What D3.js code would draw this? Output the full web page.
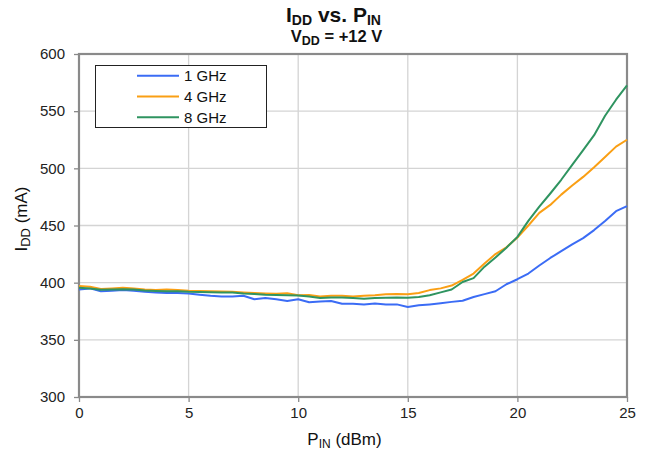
<!DOCTYPE html>
<html><head><meta charset="utf-8">
<script src="https://cdn.jsdelivr.net/npm/d3@7"></script>
<style>body{margin:0;background:#fff}svg{display:block}text{font-family:"Liberation Sans",Arial,sans-serif}</style>
</head><body>
<svg id="c" width="647" height="451"></svg>
<script>
const pin = [0,0.5,1,1.5,2,2.5,3,3.5,4,4.5,5,5.5,6,6.5,7,7.5,8,8.5,9,9.5,10,10.5,11,11.5,12,12.5,13,13.5,14,14.5,15,15.5,16,16.5,17,17.5,18,18.5,19,19.5,20,20.5,21,21.5,22,22.5,23,23.5,24,24.5,25];
const idd1 = [394,395,392.5,393,393.5,393,392,391.5,391,391,390.5,389.5,388.5,388,388,388.5,385.5,386.5,385.5,384,385.5,382.8,383.5,384,381.5,381.5,381,381.7,381,381,378.7,380.2,381,382,383.2,384.2,387.5,390,392.5,398.6,403,408,415,421.6,427.5,433.5,439,446,454,462.5,467];
const idd4 = [397,396.5,394.5,395,395.5,395,394,393.5,394,393.5,393,392.8,392.5,392.3,392,391.5,391,390.5,390.2,390.8,389,389.2,388,388.5,388.6,388,388.5,389,389.8,390,389.8,391,393.5,395,397.5,402.5,408,416.7,425,431,439.5,450,461,468,477,485,492.5,501,510,519,525];
const idd8 = [395.5,395,393.8,394,394.2,394,393.2,392.8,392.5,392.5,392,391.8,391.6,391.5,391.5,390.5,390,389.5,389.3,389,388.8,388,386.6,387,387,386.5,386,386.5,386.8,387,386.9,387.5,389,391.5,394,400.6,404,414,422,430.6,440,454,466.5,478,490,503,516,529,546,560,572.5];
const seriesNames = ["1 GHz","4 GHz","8 GHz"];
const seriesColors = ["#3b6cf5","#fa9f14","#2f9460"];
const xTicks = [0,5,10,15,20,25];
const yTicks = [300,350,400,450,500,550,600];

const svg = d3.select("#c");
const L=79, R=627, T=54, B=397;
const x = d3.scaleLinear().domain([0,25]).range([L,R]);
const y = d3.scaleLinear().domain([300,600]).range([B,T]);

// grid
svg.append("g").selectAll("line").data(xTicks.slice(1,-1)).join("line")
  .attr("x1",d=>x(d)).attr("x2",d=>x(d)).attr("y1",T).attr("y2",B)
  .attr("stroke","#d4d4d4").attr("stroke-width",1.3);
svg.append("g").selectAll("line").data(yTicks.slice(1,-1)).join("line")
  .attr("y1",d=>y(d)).attr("y2",d=>y(d)).attr("x1",L).attr("x2",R)
  .attr("stroke","#d4d4d4").attr("stroke-width",1.3);

// axes
const xa = svg.append("g").attr("transform",`translate(0,${B})`)
  .call(d3.axisBottom(x).tickValues(xTicks).tickSize(5).tickPadding(5));
const ya = svg.append("g").attr("transform",`translate(${L},0)`)
  .call(d3.axisLeft(y).tickValues(yTicks).tickSize(5).tickPadding(9));
[xa,ya].forEach(a=>{
  a.select(".domain").remove();
  a.selectAll("line").attr("stroke","#8a8a8a").attr("stroke-width",1.3);
  a.selectAll("text").attr("font-size",15).attr("fill","#222").attr("font-family","Liberation Sans, Arial, sans-serif");
});

// frame
svg.append("rect").attr("x",L).attr("y",T).attr("width",R-L).attr("height",B-T)
  .attr("fill","none").attr("stroke","#8a8a8a").attr("stroke-width",2.2);

// lines
const data = [idd1,idd4,idd8];
const line = d3.line().x((d,i)=>x(pin[i])).y(d=>y(d));
data.forEach((s,k)=>{
  svg.append("path").datum(s).attr("d",line).attr("fill","none")
    .attr("stroke",seriesColors[k]).attr("stroke-width",2).attr("stroke-linejoin","round");
});

// legend
const lg = svg.append("g");
lg.append("rect").attr("x",95.5).attr("y",65.5).attr("width",171).attr("height",62)
  .attr("fill","#fff").attr("stroke","#222").attr("stroke-width",1);
seriesNames.forEach((n,i)=>{
  const yy = 75.7 + i*20.8;
  lg.append("line").attr("x1",137).attr("x2",179).attr("y1",yy).attr("y2",yy)
    .attr("stroke",seriesColors[i]).attr("stroke-width",2);
  lg.append("text").attr("x",184).attr("y",yy+5.3).attr("font-size",15).attr("fill","#111").text(n);
});

// titles
const t1 = svg.append("text").attr("x",333.5).attr("y",22).attr("text-anchor","middle")
  .attr("font-size",21).attr("font-weight","bold").attr("fill","#111");
t1.append("tspan").text("I");
t1.append("tspan").attr("font-size",14).attr("dy",3).text("DD");
t1.append("tspan").attr("dy",-3).text(" vs. P");
t1.append("tspan").attr("font-size",14).attr("dy",3).text("IN");
const t2 = svg.append("text").attr("x",336.5).attr("y",41.5).attr("text-anchor","middle")
  .attr("font-size",16.5).attr("font-weight","bold").attr("fill","#111");
t2.append("tspan").text("V");
t2.append("tspan").attr("font-size",12.5).attr("dy",3.5).text("DD");
t2.append("tspan").attr("dy",-3.5).text(" = +12 V");

// axis labels
const xl = svg.append("text").attr("x",344.5).attr("y",444.5).attr("text-anchor","middle")
  .attr("font-size",17).attr("fill","#111");
xl.append("tspan").text("P");
xl.append("tspan").attr("font-size",12).attr("dy",3).text("IN");
xl.append("tspan").attr("dy",-3).text(" (dBm)");
const yl = svg.append("text").attr("transform","translate(27,219) rotate(-90)").attr("text-anchor","middle")
  .attr("font-size",17).attr("fill","#111");
yl.append("tspan").text("I");
yl.append("tspan").attr("font-size",13).attr("dy",3).text("DD");
yl.append("tspan").attr("dy",-3).text(" (mA)");
</script>
</body></html>
